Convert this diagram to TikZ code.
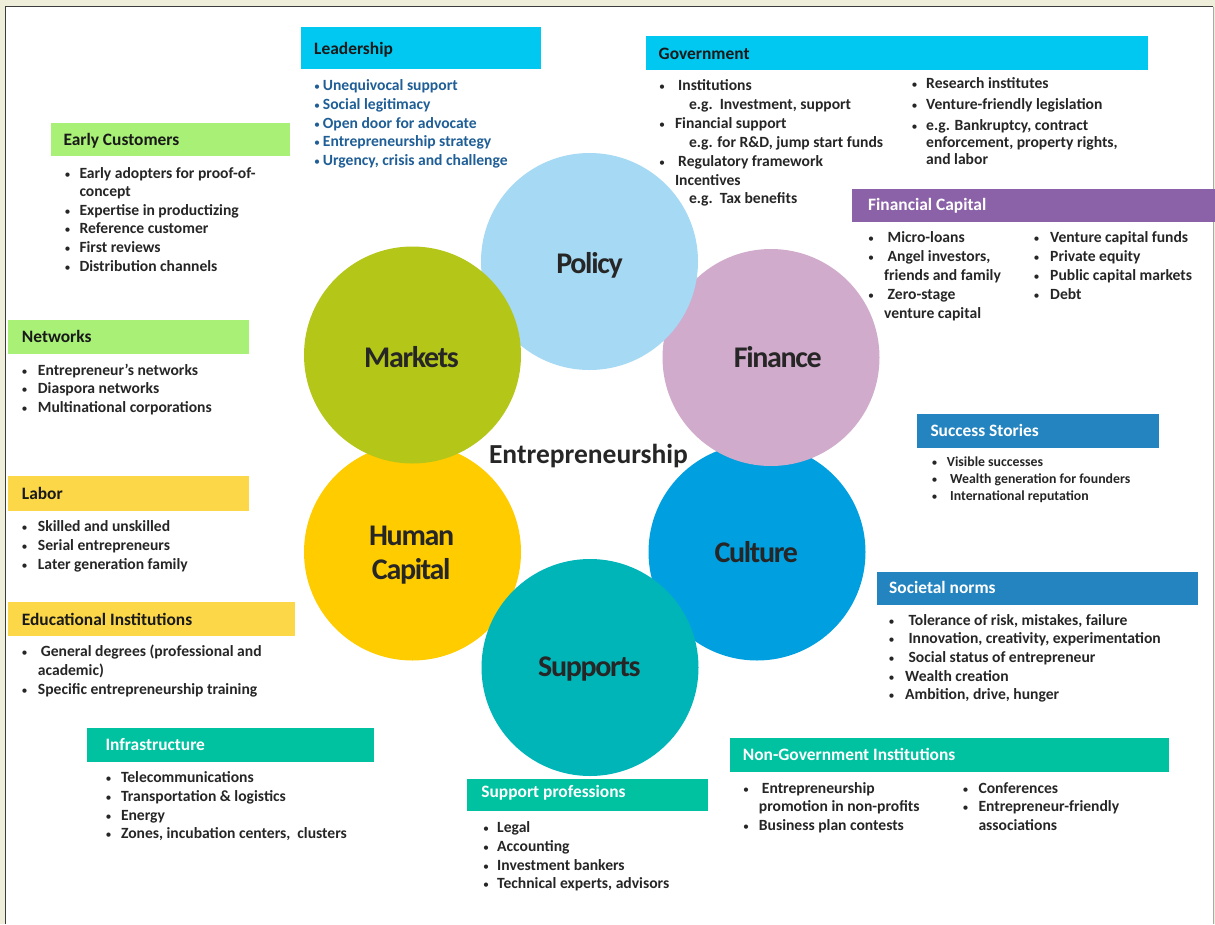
\documentclass[tikz,border=0pt]{standalone}
\usepackage{fontspec}
\setmainfont{Carlito}
\newfontfamily\circfont[LetterSpace=-4.4]{Carlito}
\definecolor{bgbeige}{RGB}{238,238,218}
\definecolor{framedark}{RGB}{60,60,60}
\definecolor{framegray}{RGB}{170,170,170}
\definecolor{hcyan}{RGB}{0,200,240}
\definecolor{hgreen}{RGB}{168,240,118}
\definecolor{hyellow}{RGB}{252,216,72}
\definecolor{hpurple}{RGB}{139,98,168}
\definecolor{hblue}{RGB}{35,132,192}
\definecolor{hteal}{RGB}{0,194,160}
\definecolor{leadblue}{RGB}{31,94,150}
\definecolor{bodygray}{RGB}{38,38,38}
\definecolor{cpolicy}{RGB}{166,217,243}
\definecolor{cmarkets}{RGB}{180,198,24}
\definecolor{cfinance}{RGB}{208,171,204}
\definecolor{chuman}{RGB}{255,204,0}
\definecolor{cculture}{RGB}{0,159,223}
\definecolor{csupports}{RGB}{0,181,184}
\newcounter{tn}
\newcommand\bul[4]{%
  \stepcounter{tn}%
  \node[bodytxt,bultxt,anchor=base] (b\number\value{tn}) at (#1,#3) {•};
  \node[bodytxt,anchor=base west] (l\number\value{tn}) at (#2,#3) {#4};}
\newcommand\lin[3]{%
  \stepcounter{tn}%
  \node[bodytxt,anchor=base west] (l\number\value{tn}) at (#1,#2) {#3};}
\begin{document}
\begin{tikzpicture}[x=1pt,y=-1pt,
  bodytxt/.style={inner sep=0pt,text=bodygray,font=\fontsize{15.6}{18.7}\selectfont\bfseries},
  bultxt/.style={font=\fontsize{12}{14}\selectfont},
  hbox/.style={rectangle,inner sep=0pt,anchor=north west,draw=none},
  htxt/.style={inner sep=0pt,anchor=base west,text=black!90,font=\fontsize{17.4}{20}\selectfont\bfseries},
  wtxt/.style={htxt,text=white},
  bigc/.style={circle,inner sep=0pt,minimum size=217pt,draw=none},
  ctxt/.style={inner sep=0pt,anchor=base,text=bodygray,font=\fontsize{30}{32}\selectfont\circfont\bfseries}]
\useasboundingbox (0,0) rectangle (1215,924);
\fill[bgbeige] (0,0) rectangle (1215,924);
\fill[white] (6,7) rectangle (1213,924);
\draw[framedark,line width=1.3pt] (5.6,924) -- (5.6,6.6) -- (1213,6.6);
\draw[framegray,line width=1.3pt] (1213.8,6.6) -- (1213.8,924);

% circles
\node[bigc,fill=cculture] (culture) at (757,552) {};
\node[bigc,fill=cfinance] (finance) at (771,357.5) {};
\node[bigc,fill=cpolicy] (policy) at (589.5,261.5) {};
\node[bigc,fill=chuman] (human) at (412.5,552) {};
\node[bigc,fill=cmarkets] (markets) at (412.5,355) {};
\node[bigc,fill=csupports] (supports) at (590,667.5) {};

\node[ctxt] (policyt) at (589.5,273.3) {Policy};
\node[ctxt] (marketst) at (411.5,367) {Markets};
\node[ctxt] (financet) at (777.8,367.3) {Finance};
\node[ctxt] (humant) at (411.6,545.3) {Human};
\node[ctxt] (capitalt) at (411.2,579.6) {Capital};
\node[ctxt] (culturet) at (756.2,562.4) {Culture};
\node[ctxt] (supportst) at (589.3,676.7) {Supports};
\node[inner sep=0pt,anchor=base,text=bodygray,font=\fontsize{27.5}{30}\selectfont\bfseries] (entre) at (588.5,463.3) {Entrepreneurship};

% Leadership
\node[hbox,fill=hcyan,minimum width=240pt,minimum height=42pt] (leadbox) at (301,27) {};
\node[htxt] (leadtxt) at (314,54) {Leadership};
\begin{scope}[bodytxt/.append style={text=leadblue}]
\bul{317}{322.7}{90.7}{Unequivocal support}
\bul{317}{322.7}{109.3}{Social legitimacy}
\bul{317}{322.7}{128}{Open door for advocate}
\bul{317}{322.7}{146.7}{Entrepreneurship strategy}
\bul{317}{322.7}{165.3}{Urgency, crisis and challenge}
\end{scope}

% Early customers
\node[hbox,fill=hgreen,minimum width=239pt,minimum height=32.7pt] (earlybox) at (51,123) {};
\node[htxt] (earlytxt) at (63.3,145.7) {Early Customers};
\bul{67.5}{79.3}{178.3}{Early adopters for proof-of-}
\lin{79.3}{196.7}{concept}
\bul{67.5}{79.3}{215}{Expertise in productizing}
\bul{67.5}{79.3}{233.3}{Reference customer}
\bul{67.5}{79.3}{252.3}{First reviews}
\bul{67.5}{79.3}{271}{Distribution channels}

% Government
\node[hbox,fill=hcyan,minimum width=502pt,minimum height=34pt] (govbox) at (646,36) {};
\node[htxt] (govtxt) at (658.5,59.3) {Government};
\bul{662}{678}{90.7}{Institutions}
\lin{688.8}{109.3}{e.g.\ \ Investment, support}
\bul{662}{674.8}{128.7}{Financial support}
\lin{688.8}{147.3}{e.g. for R\&D, jump start funds}
\bul{662}{678}{166}{Regulatory framework}
\lin{674.8}{185}{Incentives}
\lin{688.8}{203.7}{e.g.\ \ Tax benefits}
\bul{914.5}{926}{88.3}{Research institutes}
\bul{914.5}{926}{109.3}{Venture-friendly legislation}
\bul{914.5}{926}{130}{e.g. Bankruptcy, contract}
\lin{926}{147}{enforcement, property rights,}
\lin{926}{164}{and labor}

% Financial capital
\node[hbox,fill=hpurple,minimum width=363pt,minimum height=33.4pt] (fcbox) at (852,188.3) {};
\node[wtxt] (fctxt) at (868,210.7) {Financial Capital};
\bul{871}{887.5}{242.7}{Micro-loans}
\bul{871}{887.5}{261.7}{Angel investors,}
\lin{883.9}{280.7}{friends and family}
\bul{871}{887.5}{299.3}{Zero-stage}
\lin{883.9}{318.3}{venture capital}
\bul{1036.5}{1050}{242.7}{Venture capital funds}
\bul{1036.5}{1050}{261.7}{Private equity}
\bul{1036.5}{1050}{280.7}{Public capital markets}
\bul{1036.5}{1050}{299.3}{Debt}

% Networks
\node[hbox,fill=hgreen,minimum width=241pt,minimum height=34pt] (netbox) at (8,320) {};
\node[htxt] (nettxt) at (21.7,342.7) {Networks};
\bul{24.5}{37.7}{375}{Entrepreneur’s networks}
\bul{24.5}{37.7}{393.7}{Diaspora networks}
\bul{24.5}{37.7}{412.3}{Multinational corporations}

% Labor
\node[hbox,fill=hyellow,minimum width=241pt,minimum height=34.7pt] (labbox) at (8,476) {};
\node[htxt] (labtxt) at (21.7,499.3) {Labor};
\bul{24.5}{37.7}{531.3}{Skilled and unskilled}
\bul{24.5}{37.7}{550}{Serial entrepreneurs}
\bul{24.5}{37.7}{569}{Later generation family}

% Educational institutions
\node[hbox,fill=hyellow,minimum width=287pt,minimum height=33.3pt] (edubox) at (8,602) {};
\node[htxt] (edutxt) at (21.7,625) {Educational Institutions};
\bul{24.5}{40.7}{656.7}{General degrees (professional and}
\lin{37.7}{675}{academic)}
\bul{24.5}{37.7}{694.3}{Specific entrepreneurship training}

% Success stories
\node[hbox,fill=hblue,minimum width=242pt,minimum height=33.7pt] (sucbox) at (917,414) {};
\node[wtxt] (suctxt) at (930.3,436.7) {Success Stories};
\begin{scope}[bodytxt/.append style={font=\fontsize{13.8}{16.6}\selectfont\bfseries}]
\bul{934.5}{946.7}{466.7}{Visible successes}
\bul{934.5}{950}{483.3}{Wealth generation for founders}
\bul{934.5}{950}{500}{International reputation}
\end{scope}

% Societal norms
\node[hbox,fill=hblue,minimum width=320.7pt,minimum height=33.4pt] (socbox) at (877,571.3) {};
\node[wtxt] (soctxt) at (889,593.3) {Societal norms};
\bul{891.5}{908.3}{625}{Tolerance of risk, mistakes, failure}
\bul{891.5}{908.3}{643.7}{Innovation, creativity, experimentation}
\bul{891.5}{908.3}{662.3}{Social status of entrepreneur}
\bul{891.5}{905}{681}{Wealth creation}
\bul{891.5}{905}{699.5}{Ambition, drive, hunger}

% Infrastructure
\node[hbox,fill=hteal,minimum width=287pt,minimum height=33.7pt] (infbox) at (87,728) {};
\node[wtxt] (inftxt) at (105.3,750) {Infrastructure};
\bul{108.5}{120.8}{782.3}{Telecommunications}
\bul{108.5}{120.8}{801}{Transportation \& logistics}
\bul{108.5}{120.8}{820}{Energy}
\bul{108.5}{120.8}{838.7}{Zones, incubation centers,\ \ clusters}

% Support professions
\node[hbox,fill=hteal,minimum width=240.3pt,minimum height=32.4pt] (supbox) at (467,778.3) {};
\node[wtxt] (suptxt) at (481.2,797.7) {Support professions};
\bul{486}{497}{832.3}{Legal}
\bul{486}{497}{851}{Accounting}
\bul{486}{497}{870}{Investment bankers}
\bul{486}{497}{888.7}{Technical experts, advisors}

% Non-government institutions
\node[hbox,fill=hteal,minimum width=439pt,minimum height=33.7pt] (ngbox) at (730,738) {};
\node[wtxt] (ngtxt) at (742.7,760.7) {Non-Government Institutions};
\bul{746}{761.7}{793.3}{Entrepreneurship}
\lin{758.7}{811.7}{promotion in non-profits}
\bul{746}{758.7}{830.7}{Business plan contests}
\bul{965.5}{978.3}{793.3}{Conferences}
\bul{965.5}{978.3}{811.7}{Entrepreneur-friendly}
\lin{978.3}{830.7}{associations}
\end{tikzpicture}
\end{document}
